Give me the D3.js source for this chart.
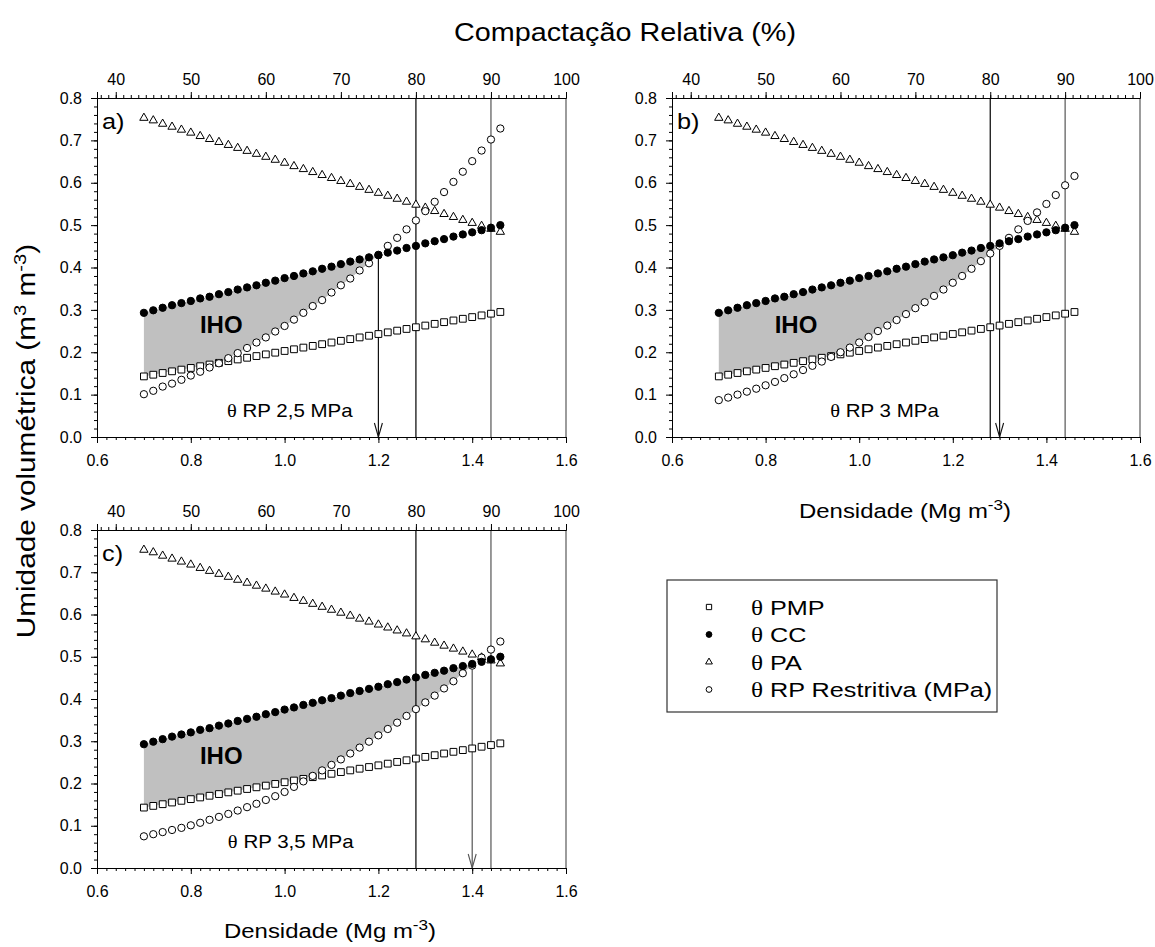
<!DOCTYPE html>
<html>
<head>
<meta charset="utf-8">
<script src="https://cdn.jsdelivr.net/npm/d3@7"></script>
<style>
body { margin: 0; background: #fff; }
text { font-family: "Liberation Sans", Arial, sans-serif; fill: #000; }
.th { font-family: "Liberation Serif", "Times New Roman", serif; }
</style>
</head>
<body>
<script>
// densidade do solo (Mg m-3), eixo inferior
var densidade = [0.70, 0.72, 0.74, 0.76, 0.78, 0.80, 0.82, 0.84, 0.86, 0.88,
                 0.90, 0.92, 0.94, 0.96, 0.98, 1.00, 1.02, 1.04, 1.06, 1.08,
                 1.10, 1.12, 1.14, 1.16, 1.18, 1.20, 1.22, 1.24, 1.26, 1.28,
                 1.30, 1.32, 1.34, 1.36, 1.38, 1.40, 1.42, 1.44, 1.46];

var thetaPMP = [0.143, 0.147, 0.151, 0.155, 0.159, 0.163, 0.167, 0.171, 0.175, 0.179,
                0.183, 0.187, 0.191, 0.195, 0.199, 0.203, 0.207, 0.211, 0.215, 0.219,
                0.223, 0.227, 0.231, 0.235, 0.239, 0.243, 0.247, 0.251, 0.255, 0.259,
                0.263, 0.267, 0.271, 0.275, 0.279, 0.283, 0.287, 0.291, 0.295];

var thetaCC = [0.293, 0.299, 0.305, 0.311, 0.316, 0.321, 0.327, 0.331, 0.337, 0.342,
               0.348, 0.353, 0.358, 0.364, 0.369, 0.375, 0.380, 0.386, 0.391, 0.397,
               0.402, 0.408, 0.414, 0.419, 0.424, 0.429, 0.435, 0.440, 0.446, 0.451,
               0.457, 0.462, 0.467, 0.473, 0.478, 0.483, 0.488, 0.494, 0.500];

var thetaPA = [0.753, 0.747, 0.739, 0.732, 0.725, 0.718, 0.710, 0.703, 0.696, 0.689,
               0.682, 0.675, 0.668, 0.661, 0.654, 0.647, 0.639, 0.632, 0.625, 0.618,
               0.611, 0.604, 0.597, 0.590, 0.583, 0.576, 0.569, 0.562, 0.555, 0.548,
               0.541, 0.533, 0.526, 0.519, 0.512, 0.505, 0.498, 0.491, 0.484];

// theta RP para 2,5 / 3 / 3,5 MPa
var thetaRP25 = [0.101, 0.109, 0.119, 0.126, 0.135, 0.145, 0.154, 0.164, 0.174, 0.186,
                 0.198, 0.210, 0.223, 0.235, 0.249, 0.262, 0.277, 0.293, 0.309, 0.323,
                 0.341, 0.358, 0.374, 0.393, 0.410, 0.430, 0.451, 0.470, 0.490, 0.511,
                 0.533, 0.555, 0.578, 0.602, 0.626, 0.651, 0.676, 0.702, 0.728];

var thetaRP3 = [0.087, 0.093, 0.100, 0.107, 0.114, 0.122, 0.130, 0.139, 0.148, 0.158,
                0.168, 0.178, 0.189, 0.200, 0.211, 0.223, 0.236, 0.250, 0.263, 0.276,
                0.290, 0.304, 0.318, 0.333, 0.348, 0.364, 0.380, 0.397, 0.415, 0.433,
                0.451, 0.470, 0.490, 0.510, 0.530, 0.550, 0.571, 0.594, 0.616];

var thetaRP35 = [0.075, 0.080, 0.085, 0.090, 0.095, 0.101, 0.107, 0.114, 0.121, 0.128,
                 0.136, 0.144, 0.152, 0.161, 0.170, 0.180, 0.192, 0.205, 0.218, 0.231,
                 0.244, 0.257, 0.271, 0.285, 0.299, 0.314, 0.329, 0.344, 0.360, 0.376,
                 0.392, 0.408, 0.425, 0.442, 0.461, 0.479, 0.498, 0.517, 0.536];

var panelLabels = ["a)", "b)", "c)"];
var rpValores = ["2,5", "3", "3,5"];
var arrowDens = [1.20, 1.30, 1.40];   // densidade critica (IHO = 0)
var refDens = [1.28, 1.44];           // 80 e 90 % de compactacao relativa
var densMax = 1.6;

var xTicks = [0.6, 0.8, 1.0, 1.2, 1.4, 1.6];
var yTicks = [0.0, 0.1, 0.2, 0.3, 0.4, 0.5, 0.6, 0.7, 0.8];
var crTicks = [40, 50, 60, 70, 80, 90, 100];
var legendLabels = ["PMP", "CC", "PA", "RP Restritiva (MPa)"];

var W = 1155, H = 947;
var svg = d3.select("body").append("svg").attr("width", W).attr("height", H);

var panels = [
  {x: 97,  y: 98,  w: 469, h: 339, rp: thetaRP25, txt: 0.877},
  {x: 672, y: 98,  w: 468, h: 339, rp: thetaRP3,  txt: 0.938},
  {x: 97,  y: 530, w: 469, h: 338, rp: thetaRP35, txt: 0.879}
];

var sqr = d3.symbol().type(d3.symbolSquare).size(46)();
var cir = d3.symbol().type(d3.symbolCircle).size(42)();
var tri = d3.symbol().type(d3.symbolTriangle).size(30)();

function range(a, b, s) {
  var out = [];
  for (var v = a; v <= b + 1e-9; v += s) out.push(+v.toFixed(4));
  return out;
}

// texto com leve alongamento horizontal (como no original)
function stext(parent, x, y, size, sx, anchor, rot) {
  return parent.append("text")
    .attr("transform", "translate(" + x + "," + y + ")" + (rot ? " rotate(" + rot + ")" : "") + " scale(" + sx + ",1)")
    .attr("text-anchor", anchor || "start")
    .style("font-size", size + "px");
}

panels.forEach(function(p, k) {
  var g = svg.append("g").attr("transform", "translate(" + p.x + "," + p.y + ")");
  var x = d3.scaleLinear().domain([0.6, 1.6]).range([0, p.w]);
  var y = d3.scaleLinear().domain([0, 0.8]).range([p.h, 0]);
  var xc = d3.scaleLinear().domain([0.6 / densMax * 100, 100]).range([0, p.w]);

  // area do IHO
  var pts = [];
  for (var i = 0; i < densidade.length; i++) {
    var lo = Math.max(thetaPMP[i], p.rp[i]), up = Math.min(thetaCC[i], thetaPA[i]);
    if (up > lo) { pts.push({d: densidade[i], lo: lo, up: up}); continue; }
    var lo0 = Math.max(thetaPMP[i-1], p.rp[i-1]), up0 = Math.min(thetaCC[i-1], thetaPA[i-1]);
    var t = (up0 - lo0) / ((up0 - lo0) - (up - lo));
    var yy = lo0 + t * (lo - lo0);
    pts.push({d: densidade[i-1] + t * (densidade[i] - densidade[i-1]), lo: yy, up: yy});
    break;
  }
  g.append("path").datum(pts)
    .attr("d", d3.area().x(function(d) { return x(d.d); })
      .y0(function(d) { return y(d.lo); }).y1(function(d) { return y(d.up); }))
    .attr("fill", "#c0c0c0");

  // linhas de referencia 80 e 90 %
  g.selectAll(".ref").data(refDens).enter().append("line")
    .attr("x1", function(d) { return x(d); }).attr("x2", function(d) { return x(d); })
    .attr("y1", 0).attr("y2", p.h)
    .attr("stroke", function(d, j) { return j == 0 ? "#000" : "#555"; })
    .attr("stroke-width", 1.2);
  // borda direita
  g.append("line").attr("x1", p.w).attr("x2", p.w).attr("y1", 0).attr("y2", p.h)
    .attr("stroke", "#666").attr("stroke-width", 1.3);

  // seta da densidade critica
  var ia = densidade.findIndex(function(d) { return Math.abs(d - arrowDens[k]) < 1e-6; });
  var ax = x(arrowDens[k]), ay = y(p.rp[ia]) + 4;
  var acol = k == 2 ? "#555" : "#111";
  g.append("line").attr("x1", ax).attr("x2", ax).attr("y1", ay).attr("y2", p.h)
    .attr("stroke", acol).attr("stroke-width", 1.2);
  g.append("path").attr("d", "M" + (ax - 4) + "," + (p.h - 14) + "L" + ax + "," + p.h + "L" + (ax + 4) + "," + (p.h - 14))
    .attr("fill", "none").attr("stroke", acol).attr("stroke-width", 1.1);

  // eixos
  var gy = g.append("g")
    .call(d3.axisLeft(y).tickValues(yTicks).tickFormat(d3.format(".1f")).tickSize(6).tickPadding(9));
  gy.append("g").call(d3.axisLeft(y).tickValues(range(0, 0.8, 0.02)).tickFormat("").tickSize(3))
    .select(".domain").remove();
  var gx = g.append("g").attr("transform", "translate(0," + p.h + ")")
    .call(d3.axisBottom(x).tickValues(xTicks).tickFormat(d3.format(".1f")).tickSize(6).tickPadding(12));
  gx.append("g").call(d3.axisBottom(x).tickValues(range(0.6, 1.6, 0.02)).tickFormat("").tickSize(3))
    .select(".domain").remove();
  var gt = g.append("g")
    .call(d3.axisTop(xc).tickValues(crTicks).tickFormat(d3.format("d")).tickSize(6).tickPadding(7));
  gt.append("g").call(d3.axisTop(xc).tickValues(range(38, 100, 1)).tickFormat("").tickSize(3))
    .select(".domain").remove();
  [gy, gx, gt].forEach(function(a) {
    a.selectAll("text").style("font-size", "16px").style("font-family", "Liberation Sans, Arial, sans-serif");
    a.selectAll("path,line").attr("stroke", "#000");
  });

  // series
  function serie(vals, shape, fill) {
    g.append("g").selectAll("path").data(vals).enter().append("path")
      .attr("d", shape)
      .attr("transform", function(d, j) { return "translate(" + x(densidade[j]) + "," + y(d) + ")"; })
      .attr("fill", fill).attr("stroke", "#000").attr("stroke-width", 1);
  }
  serie(thetaPMP, sqr, "#fff");
  serie(thetaPA, tri, "#fff");
  serie(p.rp, cir, "#fff");
  serie(thetaCC, cir, "#000");

  // textos
  stext(g, 5, 31, 22, 1.15).text(panelLabels[k]);
  g.append("text").attr("x", x(0.865)).attr("y", y(0.245)).attr("text-anchor", "middle")
    .style("font-size", "24px").style("font-weight", "bold").text("IHO");
  var tr = stext(g, x(p.txt), y(0.047), 18, 1.14);
  tr.append("tspan").attr("class", "th").text("\u03b8");
  tr.append("tspan").text(" RP " + rpValores[k] + " MPa");
});

// titulos
stext(svg, 625, 41, 25, 1.15, "middle").text("Compactação Relativa (%)");

var yl = stext(svg, 35, 441, 25, 1.19, "middle", -90);
yl.append("tspan").text("Umidade volumétrica (m");
yl.append("tspan").attr("dy", -9).style("font-size", "17px").text("3");
yl.append("tspan").attr("dy", 9).text(" m");
yl.append("tspan").attr("dy", -9).style("font-size", "17px").text("-3");
yl.append("tspan").attr("dy", 9).text(")");

function densLabel(cx, by) {
  var t = stext(svg, cx, by, 21, 1.14, "middle");
  t.append("tspan").text("Densidade (Mg m");
  t.append("tspan").attr("dy", -8).style("font-size", "15px").text("-3");
  t.append("tspan").attr("dy", 8).text(")");
}
densLabel(905, 518);
densLabel(330, 938);

// legenda
var lg = svg.append("g").attr("transform", "translate(667,580)");
lg.append("rect").attr("width", 330).attr("height", 132).attr("fill", "#fff")
  .attr("stroke", "#333").attr("stroke-width", 1.2);
var lsq = d3.symbol().type(d3.symbolSquare).size(28)();
var lci = d3.symbol().type(d3.symbolCircle).size(26)();
var ltr = d3.symbol().type(d3.symbolTriangle).size(20)();
var lshapes = [[lsq, "#fff"], [lci, "#000"], [ltr, "#fff"], [lci, "#fff"]];
legendLabels.forEach(function(lab, i) {
  var yy = 27 + i * 27.5;
  lg.append("path").attr("d", lshapes[i][0]).attr("transform", "translate(42," + yy + ")")
    .attr("fill", lshapes[i][1]).attr("stroke", "#000").attr("stroke-width", 1);
  var t = stext(lg, 84, yy + 7.5, 21, 1.2);
  t.append("tspan").attr("class", "th").text("\u03b8");
  t.append("tspan").text(" " + lab);
});
</script>
</body>
</html>
